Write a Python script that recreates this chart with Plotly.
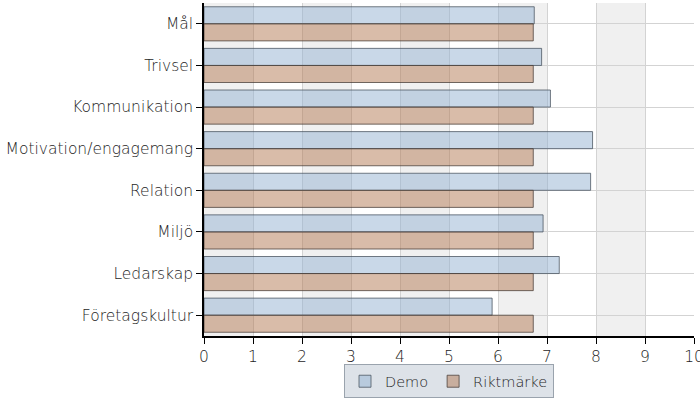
import plotly.graph_objects as go

categories = ["Mål", "Trivsel", "Kommunikation", "Motivation/engagemang",
              "Relation", "Miljö", "Ledarskap", "Företagskultur"]
demo = [6.74, 6.89, 7.07, 7.93, 7.89, 6.92, 7.25, 5.88]
riktmarke = [6.72, 6.72, 6.72, 6.72, 6.72, 6.72, 6.72, 6.72]
x_ticks = list(range(0, 11))

FONT = "DejaVu Sans"
FS = 15.5
TXT = "#1e1e1e"

fig = go.Figure()
fig.add_trace(go.Bar(
    y=categories, x=demo, name="Demo", orientation="h",
    marker=dict(color="rgba(147,177,210,0.5)",
                line=dict(color="rgba(70,80,92,0.75)", width=1)),
))
fig.add_trace(go.Bar(
    y=categories, x=riktmarke, name="Riktmärke", orientation="h",
    marker=dict(color="rgba(179,121,83,0.5)",
                line=dict(color="rgba(70,60,55,0.75)", width=1)),
))

shapes = []
for b in range(0, 10, 2):
    shapes.append(dict(type="rect", xref="x", yref="paper", x0=b, x1=b + 1,
                       y0=0, y1=1, fillcolor="#f0f0f0", line=dict(width=0),
                       layer="below"))

fig.update_layout(
    width=700, height=400,
    margin=dict(l=204, r=6, t=3, b=64, autoexpand=False),
    paper_bgcolor="white", plot_bgcolor="white",
    barmode="group", bargap=0.18, bargroupgap=0,
    font=dict(family=FONT, size=FS, color=TXT, weight=200),
    shapes=shapes,
    xaxis=dict(range=[0, 10], tickvals=x_ticks, ticktext=[str(t) for t in x_ticks],
               automargin=False, ticklabeloverflow="allow",
               showgrid=True, gridcolor="#d3d3d3", gridwidth=1,
               showline=True, linecolor="#000000", linewidth=1.5,
               ticks="outside", ticklen=6, tickcolor="#000000",
               tickfont=dict(family=FONT, size=FS, color=TXT, weight=200),
               zeroline=False),
    yaxis=dict(autorange="reversed", showgrid=True, gridcolor="#d3d3d3",
               automargin=False,
               showline=True, linecolor="#000000", linewidth=1.5,
               ticks="outside", ticklen=6, tickcolor="#000000",
               tickfont=dict(family=FONT, size=FS, color=TXT, weight=200)),
    legend=dict(orientation="h", x=0.5, xanchor="center", y=-0.085, yanchor="top",
                bgcolor="#dde2e8", bordercolor="#9aa3ad", borderwidth=1,
                font=dict(family=FONT, size=14.5, color=TXT, weight=200),
                traceorder="normal", itemwidth=30, tracegroupgap=0),
)

fig.write_html("out.html",
               config={"displayModeBar": False},
               post_script="document.body.style.margin='0';document.body.style.padding='0';")
